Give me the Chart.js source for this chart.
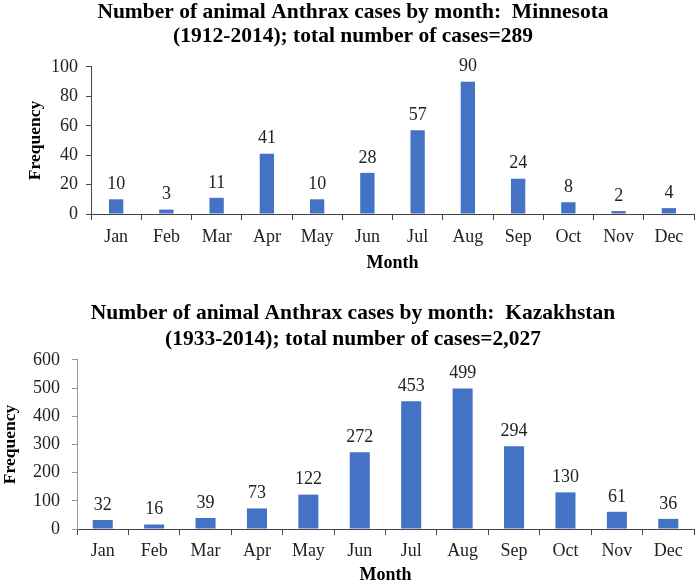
<!DOCTYPE html>
<html>
<head>
<meta charset="utf-8">
<script src="https://cdn.jsdelivr.net/npm/chart.js@4.4.1/dist/chart.umd.min.js"></script>
<style>
    html, body { margin: 0; padding: 0; background: #fff; }
    body { width: 700px; height: 586px; position: relative; overflow: hidden; }
    .box { position: absolute; left: 0; width: 700px; }
    #box1 { top: 0; height: 278px; }
    #box2 { top: 290px; height: 296px; }
</style>
</head>
<body>
<div class="box" id="box1"><canvas id="chart1"></canvas></div>
<div class="box" id="box2"><canvas id="chart2"></canvas></div>
<script>
// --- Data ---
const months = ['Jan', 'Feb', 'Mar', 'Apr', 'May', 'Jun', 'Jul', 'Aug', 'Sep', 'Oct', 'Nov', 'Dec'];
const minnesotaCases = [10, 3, 11, 41, 10, 28, 57, 90, 24, 8, 2, 4];
const kazakhstanCases = [32, 16, 39, 73, 122, 272, 453, 499, 294, 130, 61, 36];
const minnesotaTitle = ['Number of animal Anthrax cases by month:  Minnesota', '(1912-2014); total number of cases=289'];
const kazakhstanTitle = ['Number of animal Anthrax cases by month:  Kazakhstan', '(1933-2014); total number of cases=2,027'];

const SERIF = "'Liberation Serif', 'Times New Roman', serif";
const BAR_BLUE = '#4472C4';

// value labels above each bar
const valueLabels = {
    id: 'valueLabels',
    afterDatasetsDraw(chart) {
        const ctx = chart.ctx;
        const meta = chart.getDatasetMeta(0);
        const data = chart.data.datasets[0].data;
        ctx.save();
        ctx.font = `18px ${SERIF}`;
        ctx.fillStyle = '#222';
        ctx.textAlign = 'center';
        ctx.textBaseline = 'bottom';
        meta.data.forEach((bar, i) => {
            ctx.fillText(data[i], bar.x, bar.y - 6);
        });
        ctx.restore();
    }
};

function makeChart(id, values, title, cfg) {
    const ctx = document.getElementById(id).getContext('2d');
    return new Chart(ctx, {
        type: 'bar',
        data: {
            labels: months,
            datasets: [{
                data: values,
                backgroundColor: BAR_BLUE,
                categoryPercentage: 1,
                barPercentage: cfg.barPct
            }]
        },
        options: {
            responsive: true,
            maintainAspectRatio: false,
            animation: false,
            // left padding 12 / right 6 puts the title centre at x=353
            layout: { padding: { left: 12, right: 6, top: 0, bottom: 0 } },
            plugins: {
                legend: { display: false },
                tooltip: { enabled: false },
                title: {
                    display: true,
                    text: title,
                    color: '#000',
                    font: { family: SERIF, size: 21.5, weight: 'bold', lineHeight: cfg.titleLh },
                    padding: cfg.titlePad
                }
            },
            scales: {
                x: {
                    grid: { offset: true, drawOnChartArea: false, drawTicks: true, tickLength: 6, color: '#444' },
                    border: { display: true, color: '#444', width: 1 },
                    ticks: { color: '#222', font: { family: SERIF, size: 18 }, padding: cfg.xTickPad, maxRotation: 0, autoSkip: false },
                    title: { display: true, text: 'Month', color: '#000', font: { family: SERIF, size: 18, weight: 'bold' }, padding: { top: 0, bottom: cfg.xTitlePad } },
                    afterFit: s => { s.height = cfg.xHeight; }
                },
                y: {
                    min: 0,
                    max: cfg.yMax,
                    grid: { drawOnChartArea: false, drawTicks: true, tickLength: 5, color: cfg.yColor },
                    border: { display: true, color: cfg.yColor, width: 1 },
                    ticks: { stepSize: cfg.yStep, color: '#222', font: { family: SERIF, size: 18 }, padding: cfg.yTickPad },
                    title: { display: true, text: 'Frequency', color: '#000', font: { family: SERIF, size: 17.5, weight: 'bold' }, padding: { top: cfg.yTitlePad, bottom: 0 } },
                    afterFit: s => { s.width = cfg.yWidth; }
                }
            }
        },
        plugins: [valueLabels]
    });
}

makeChart('chart1', minnesotaCases, minnesotaTitle, {
    barPct: 0.285, yMax: 100, yStep: 20, yWidth: 79, yColor: '#444',
    yTickPad: 8, yTitlePad: 12.5, xHeight: 64, xTickPad: 6, xTitlePad: 4,
    titleLh: 1.13, titlePad: { top: 0, bottom: 18.4 }
});

makeChart('chart2', kazakhstanCases, kazakhstanTitle, {
    barPct: 0.39, yMax: 600, yStep: 100, yWidth: 65, yColor: '#999',
    yTickPad: 12, yTitlePad: -12, xHeight: 57, xTickPad: 5, xTitlePad: 0,
    titleLh: 1.22, titlePad: { top: 10.5, bottom: 7 }
});
</script>
</body>
</html>
